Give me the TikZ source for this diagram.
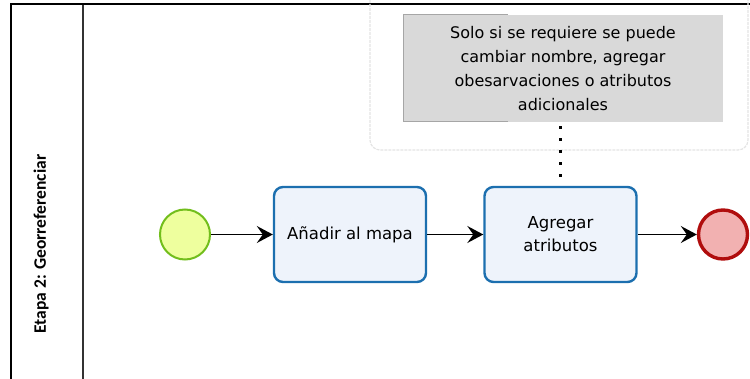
\documentclass[tikz,border=0pt]{standalone}
\usepackage{fontspec}
\setmainfont{DejaVu Sans}
\newfontfamily\lanefont{Carlito}
\usetikzlibrary{arrows.meta}
\definecolor{taskblue}{HTML}{1C6FAF}
\definecolor{taskfill}{HTML}{EEF3FB}
\definecolor{startgreen}{HTML}{72BE1C}
\definecolor{startfill}{HTML}{EEFF9E}
\definecolor{endred}{HTML}{B00D0D}
\definecolor{endfill}{HTML}{F2B1B1}
\definecolor{notefill}{HTML}{D9D9D9}
\definecolor{noteedge}{HTML}{A6A6A6}
\definecolor{groupedge}{HTML}{E4E4E4}
\tikzset{
  taskbox/.style={draw=taskblue, line width=2.4pt, fill=taskfill, rounded corners=9pt,
    minimum width=152pt, minimum height=95pt, align=center, inner sep=0pt,
    font=\fontsize{16.5}{23}\selectfont},
  startev/.style={circle, draw=startgreen, line width=2pt, fill=startfill, minimum size=50pt, inner sep=0pt},
  endev/.style={circle, draw=endred, line width=3.4pt, fill=endfill, minimum size=49pt, inner sep=0pt},
  flow/.style={line width=1.4pt, -{Stealth[length=16pt,width=17pt,inset=6pt]}},
  assoc/.style={line width=2.6pt, dash pattern=on 2.6pt off 9.4pt},
  notebox/.style={fill=notefill, minimum width=320pt, minimum height=107pt, inner sep=0pt,
    align=center, font=\fontsize{16}{24}\selectfont},
}
\begin{document}
\begin{tikzpicture}[x=1pt, y=-1pt]
  \useasboundingbox (0,0) rectangle (750,379);

  % pool frame and lane header
  \draw[line width=2pt] (11,381) -- (11,4) -- (752,4);
  \draw[line width=1.4pt, black!80] (83,5) -- (83,381);
  \node[rotate=90, font=\lanefont\bfseries\fontsize{17.5}{20}\selectfont] (lane) at (41,244) {Etapa 2: Georreferenciar};

  % annotation group
  \draw[groupedge, line width=1.2pt, dash pattern=on 3pt off 1pt, rounded corners=10pt]
    (370,-20) -- (370,150) -- (748,150) -- (748,-20);

  % text annotation
  \node[notebox] (note) at (563,68.5) {Solo si se requiere se puede\\cambiar nombre, agregar\\obesarvaciones o atributos\\adicionales};
  \draw[noteedge, line width=1pt] (508,15) -- (403,15) -- (403,122) -- (508,122);

  % flow elements
  \node[startev] (start) at (185,234.5) {};
  \node[taskbox] (t1) at (350,234.5) {Añadir al mapa};
  \node[taskbox] (t2) at (560.5,234.5) {Agregar\\atributos};
  \node[endev] (end) at (723,234.5) {};

  % sequence flows
  \draw[flow] (start) -- (t1);
  \draw[flow] (t1) -- (t2);
  \draw[flow] (t2) -- (end);

  % association to the annotation
  \draw[assoc] (note.south -| t2.north) ++(0,4) -- (t2.north);
\end{tikzpicture}
\end{document}
